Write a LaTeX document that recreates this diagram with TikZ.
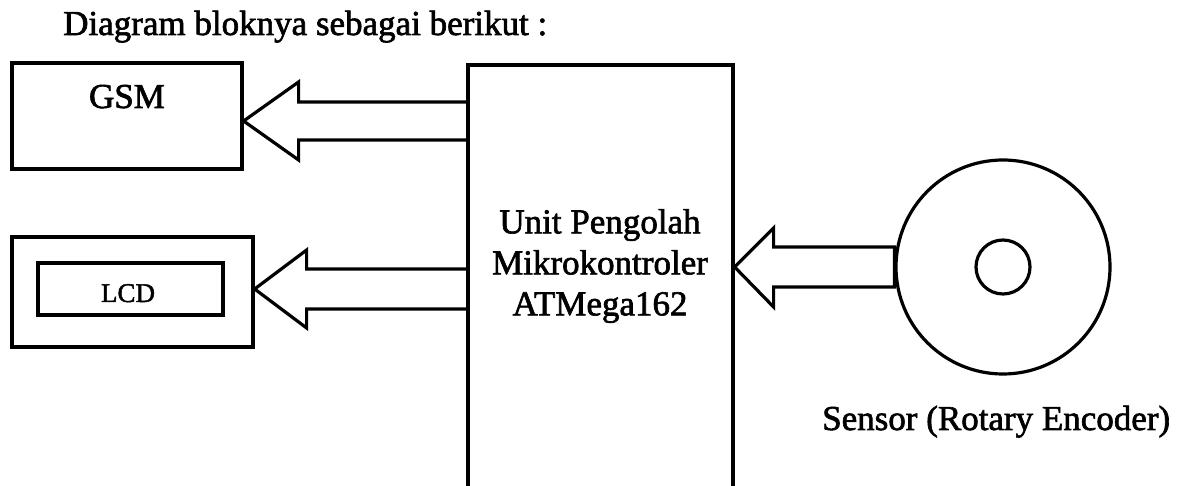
\documentclass[tikz,border=0pt]{standalone}
\usepackage{fontspec}
\setmainfont[FakeBold=1.8]{Liberation Serif}
\usetikzlibrary{calc}
\begin{document}
\begin{tikzpicture}[x=1pt,y=1pt,
  ln/.style={line width=3.2pt},
  boxnode/.style={ln,draw,rectangle,inner sep=0pt},
  txt/.style={inner sep=0pt,font=\fontsize{35}{41}\selectfont},
  smalltxt/.style={inner sep=0pt,font=\fontsize{27}{32}\selectfont},
  blk/.style={ln,line join=miter}]
\useasboundingbox (0,0) rectangle (1182,486);
\clip (0,0) rectangle (1182,486);
\fill[white] (0,0) rectangle (1182,486);

% title
\node[txt,anchor=base west] (title) at (63,451) {Diagram bloknya sebagai berikut :};

% GSM
\node[boxnode,minimum width=230pt,minimum height=106pt] (gsm) at (127,370) {};
\node[txt,anchor=base] (gsmlabel) at (127,378) {GSM};

% MCU
\node[boxnode,minimum width=265pt,minimum height=451pt] (mcu) at (600.5,195.5) {};
\node[txt,align=center] (mcutext) at (600,220) {Unit Pengolah\\Mikrokontroler\\ATMega162};

% LCD
\node[boxnode,minimum width=241pt,minimum height=110pt] (lcdout) at (132.5,194) {};
\node[boxnode,minimum width=185pt,minimum height=52pt] (lcdin) at (130.5,197) {};
\node[smalltxt,anchor=base] (lcdlabel) at (128,184) {LCD};

% Sensor
\node[ln,draw,circle,inner sep=0pt,minimum size=214pt] (enc) at (1003,219) {};
\node[ln,draw,circle,inner sep=0pt,minimum size=54pt] (encin) at (enc.center) {};
\node[txt,anchor=base west] (senslabel) at (822,56) {Sensor (Rotary Encoder)};

% block arrows
\draw[blk] let \p1=(gsm.east), \p2=(mcu.west) in
  (\x2,384) -- (\x1+55,384) -- (\x1+55,404) -- (\x1,365) -- (\x1+55,326) -- (\x1+55,346) -- (\x2,346);
\draw[blk] let \p1=(lcdout.east), \p2=(mcu.west) in
  (\x2,217) -- (\x1+52,217) -- (\x1+52,236) -- (\x1,197) -- (\x1+52,158) -- (\x1+52,177) -- (\x2,177);
\draw[blk] let \p1=(mcu.east), \p2=(enc.west) in
  (\x2,239) -- (\x1+39,239) -- (\x1+39,258) -- (\x1,219) -- (\x1+39,179) -- (\x1+39,199) -- (\x2,199) -- cycle;
\end{tikzpicture}
\end{document}
